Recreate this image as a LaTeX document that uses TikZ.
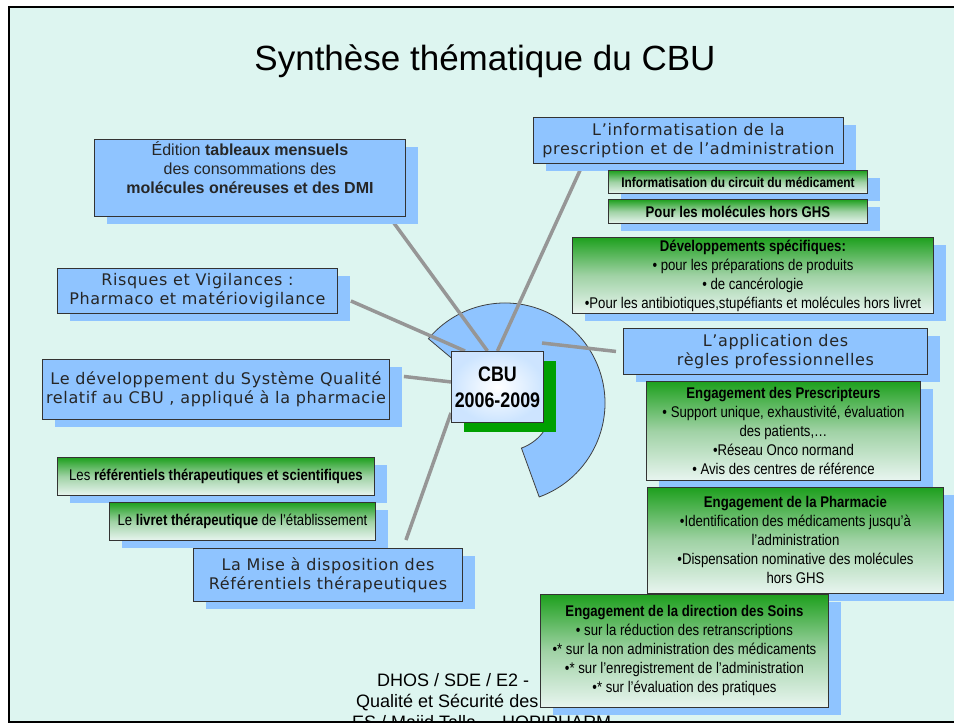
\documentclass[tikz,border=0pt]{standalone}
\usepackage{fontspec}
\setmainfont{Liberation Sans}
\newfontfamily\boxfont[LetterSpace=4]{DejaVu Sans}
\newfontfamily\narrowfont[FakeStretch=0.85]{Liberation Sans}
\usetikzlibrary{positioning,calc,shadows,backgrounds}
\definecolor{slidebg}{RGB}{221,245,240}
\definecolor{boxblue}{RGB}{143,196,255}
\definecolor{linkgrey}{RGB}{150,150,150}
\definecolor{gtop}{RGB}{30,160,30}
\definecolor{gmid}{RGB}{160,210,165}
\definecolor{gbot}{RGB}{232,245,240}
\definecolor{cbugreen}{RGB}{0,160,0}
\tikzset{
  bluebox/.style ={draw=black!80,fill=boxblue,line width=0.9pt,inner sep=0pt,align=center,anchor=north west,text=black!85,
                   font=\boxfont\fontsize{16}{19}\selectfont,
                   drop shadow={shadow xshift=13pt,shadow yshift=-8pt,fill=boxblue,opacity=1}},
  greenbox/.style={draw=black!80,line width=0.9pt,top color=gtop,bottom color=gbot,middle color=gmid,inner sep=0pt,align=center,anchor=north west,
                   font=\narrowfont\fontsize{15.5}{19}\selectfont,
                   drop shadow={shadow xshift=13pt,shadow yshift=-8pt,fill=boxblue,opacity=1}},
  link/.style    ={draw=linkgrey,line width=3.5pt},
  foot/.style    ={anchor=base west,inner sep=0pt,font=\fontsize{18}{21}\selectfont},
}

\begin{document}
\begin{tikzpicture}[x=1pt,y=-1pt]
\useasboundingbox (0,0) rectangle (954,725);

\node[font=\fontsize{35}{42}\selectfont] (title) at (485,61) {Synthèse thématique du CBU};

% left side
\node[bluebox,font=\normalfont\fontsize{16}{19}\selectfont,minimum width=311,minimum height=77] (edition) at (94,139)
  {Édition \textbf{tableaux mensuels}\\des consommations des\\\textbf{molécules onéreuses et des DMI}\\[2pt]\mbox{}};
\node[bluebox,minimum width=280,minimum height=45] (risques) at (57,268) {Risques et Vigilances :\\Pharmaco et matériovigilance};
\node[bluebox,minimum width=347,minimum height=60] (qualite) at (42,359) {Le développement du Système Qualité\\relatif au CBU , appliqué à la pharmacie};
\node[greenbox,minimum width=317,minimum height=38] (refer) at (57,457) {Les \textbf{référentiels thérapeutiques et scientifiques}};
\node[greenbox,minimum width=266,minimum height=38] (livret) at (109,502) {Le \textbf{livret thérapeutique} de l’établissement};
\node[bluebox,minimum width=269,minimum height=53] (mise) at (193,548) {La Mise à disposition des\\Référentiels thérapeutiques};

% centre
\node[draw=black!80,line width=0.9pt,inner sep=0pt,anchor=north west,minimum width=92,minimum height=71,
      inner color=white,outer color=boxblue!45!white,align=center,
      font=\narrowfont\bfseries\fontsize{21}{26}\selectfont,
      drop shadow={shadow xshift=13pt,shadow yshift=-10pt,fill=cbugreen,opacity=1}] (cbu) at (451,351) {CBU\\2006-2009};
\coordinate (ringpt) at (542,343);

% right side
\node[bluebox,minimum width=310,minimum height=46] (info) at (533,117) {L’informatisation de la\\prescription et de l’administration};
\node[greenbox,font=\narrowfont\fontsize{14}{17}\selectfont,minimum width=259,minimum height=23] (circuit) at (608,170) {\textbf{Informatisation du circuit du médicament}};
\node[greenbox,minimum width=259,minimum height=24] (horsghs) at (608,199) {\textbf{Pour les molécules hors GHS}};
\node[greenbox,minimum width=361,minimum height=76] (devspec) at (572,237)
  {\textbf{Développements spécifiques:}\\• pour les préparations de produits\\• de cancérologie\\•Pour les antibiotiques,stupéfiants et molécules hors livret};
\node[bluebox,minimum width=304,minimum height=46] (appli) at (623,328) {L’application des\\règles professionnelles};
\node[greenbox,minimum width=274,minimum height=99] (prescr) at (646,381)
  {\textbf{Engagement des Prescripteurs}\\• Support unique, exhaustivité, évaluation\\des patients,…\\•Réseau Onco normand\\• Avis des centres de référence};
\node[greenbox,minimum width=296,minimum height=106] (pharma) at (647,487)
  {\textbf{Engagement de la Pharmacie}\\•Identification des médicaments jusqu’à\\l’administration\\•Dispensation nominative des molécules\\hors GHS};

% footer, cut by the slide edge
\begin{scope}
  \clip (9,7) rectangle (958,721);
  \node[foot] (foot1) at (377,686) {DHOS / SDE / E2 -};
  \node[foot] (foot2) at (356,707) {Qualité et Sécurité des};
  \node[foot] (foot3) at (352,728) {ES / Majid Talla\hspace{26pt}HOPIPHARM};
\end{scope}

\node[greenbox,minimum width=288,minimum height=113] (soins) at (540,594)
  {\textbf{Engagement de la direction des Soins}\\• sur la réduction des retranscriptions\\•* sur la non administration des médicaments\\•* sur l’enregistrement de l’administration\\•* sur l’évaluation des pratiques};

\begin{scope}[on background layer]
  \fill[slidebg] (9,7) rectangle (958,722);
  \draw[line width=2pt] (958,7) -- (9,7) -- (9,722) -- (958,722);
  % ring behind the CBU box
  \filldraw[fill=boxblue,draw=black!75,line width=0.8pt] (505,403) ++(70:100)
    arc[start angle=70,end angle=-140,radius=100] -- ($(505,403)+(-140:48)$)
    arc[start angle=-140,end angle=70,radius=48] -- cycle;
  \draw[link] ([xshift=-15pt,yshift=-2pt]edition.south east) -- ([xshift=-10pt]cbu.north);
  \draw[link] ([xshift=50pt]info.south west) -- (cbu.north);
  \draw[link] ([xshift=13pt,yshift=-10pt]risques.east) -- ([xshift=14pt]cbu.north west);
  \draw[link] ([xshift=14pt,yshift=13pt]qualite.east) -- ([yshift=5pt]cbu.west);
  \draw[link] ([xshift=78pt,yshift=8pt]mise.north) -- ([yshift=10pt]cbu.south west);
  \draw[link] (ringpt) -- ([xshift=-7pt]appli.west);
\end{scope}
\end{tikzpicture}
\end{document}
